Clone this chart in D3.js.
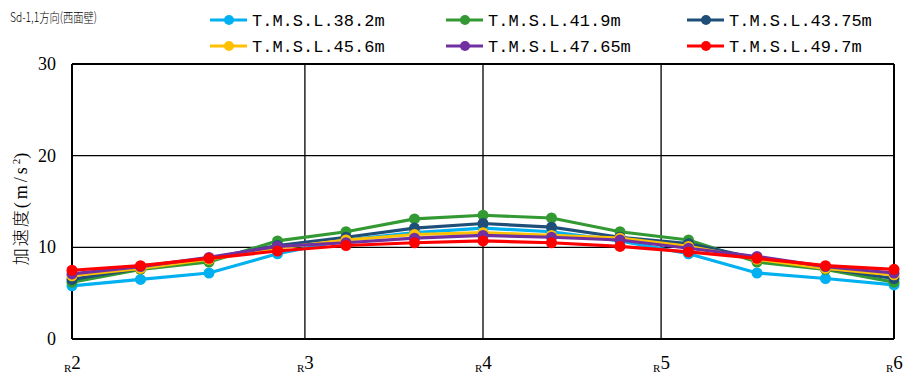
<!DOCTYPE html>
<html lang="ja">

<head>
    <meta charset="UTF-8">
    <script src="https://cdnjs.cloudflare.com/ajax/libs/d3/7.8.5/d3.min.js" type="text/JavaScript"></script>
    <title>Sd-1,1方向(西面壁)</title>
    <style>
        body { margin: 0; background: #fff; }
        svg { display: block; }
    </style>
</head>

<body>
    <svg width="911" height="376"></svg>
    <script>
        // positions of measuring points along the wall (equal spacing)
        var positions = [0, 1, 2, 3, 4, 5, 6, 7, 8, 9, 10, 11, 12];
        // column lines R2..R6
        var tickPositions = [0, 3.4, 6, 8.6, 12];
        var tickLabels = ["2", "3", "4", "5", "6"];
        var yTicks = [0, 10, 20, 30];

        var seriesNames = ["T.M.S.L.38.2m", "T.M.S.L.41.9m", "T.M.S.L.43.75m",
            "T.M.S.L.45.6m", "T.M.S.L.47.65m", "T.M.S.L.49.7m"];
        var seriesColors = ["#00B0F0", "#339933", "#1F4E79", "#FFC000", "#7030A0", "#FF0000"];

        var s382 = [5.8, 6.5, 7.2, 9.3, 10.8, 11.6, 12.1, 11.7, 10.7, 9.3, 7.2, 6.6, 5.9];
        var s419 = [6.2, 7.6, 8.4, 10.7, 11.7, 13.1, 13.5, 13.2, 11.7, 10.8, 8.4, 7.6, 6.2];
        var s4375 = [6.5, 7.7, 8.8, 10.2, 11.1, 12.1, 12.6, 12.2, 11.1, 10.4, 8.8, 7.7, 6.6];
        var s456 = [6.9, 7.7, 8.7, 9.9, 10.8, 11.4, 11.6, 11.3, 11.0, 10.1, 8.7, 7.7, 7.0];
        var s4765 = [7.1, 7.9, 8.9, 10.1, 10.5, 11.0, 11.3, 11.1, 10.8, 9.9, 9.0, 7.9, 7.2];
        var s497 = [7.5, 8.0, 8.8, 9.6, 10.2, 10.5, 10.7, 10.5, 10.1, 9.5, 8.8, 8.0, 7.6];

        var seriesValues = [s382, s419, s4375, s456, s4765, s497];

        var svg = d3.select("svg");
        var plotL = 72, plotR = 894, plotT = 64, plotB = 339;

        var xScale = d3.scaleLinear().domain([0, 12]).range([plotL, plotR]);
        var yScale = d3.scaleLinear().domain([0, 30]).range([plotB, plotT]);

        // horizontal grid
        svg.append("g").selectAll("line")
            .data(yTicks)
            .enter()
            .append("line")
            .attr("x1", plotL).attr("x2", plotR)
            .attr("y1", d => yScale(d)).attr("y2", d => yScale(d))
            .attr("stroke", "#000").attr("stroke-width", d => (d == 0 || d == 30) ? 2 : 1.3);

        // vertical grid
        svg.append("g").selectAll("line")
            .data(tickPositions)
            .enter()
            .append("line")
            .attr("x1", d => xScale(d)).attr("x2", d => xScale(d))
            .attr("y1", plotT).attr("y2", plotB)
            .attr("stroke", "#000").attr("stroke-width", d => (d == 0 || d == 12) ? 2 : 1.3);

        // y tick labels
        svg.append("g").selectAll("text")
            .data(yTicks)
            .enter()
            .append("text")
            .attr("x", 56)
            .attr("y", d => yScale(d) + 6)
            .attr("text-anchor", "end")
            .style("font-family", "'Liberation Serif', serif")
            .style("font-size", "18px")
            .text(d => d);

        // x tick labels: small R then column number
        var xl = svg.append("g").selectAll("text")
            .data(tickPositions)
            .enter()
            .append("text")
            .attr("x", d => xScale(d) - 8)
            .attr("y", 369)
            .style("font-family", "'Liberation Serif', serif");
        xl.append("tspan").style("font-size", "11px").attr("dy", 3).text("R");
        xl.append("tspan").style("font-size", "19px").attr("dy", -3).text((d, i) => tickLabels[i]);

        // y axis title
        var yt = svg.append("text")
            .attr("transform", "translate(27,209) rotate(-90)")
            .attr("text-anchor", "middle")
            .style("font-size", "17px")
            .style("font-weight", "300")
            .style("font-family", "'Noto Sans CJK JP', sans-serif");
        yt.append("tspan").style("letter-spacing", "2px").text("加速度");
        yt.append("tspan").style("font-family", "'Liberation Serif', serif").style("font-size", "18px")
            .style("letter-spacing", "3px").text("(m/s");
        yt.append("tspan").style("font-family", "'Liberation Serif', serif").style("font-size", "11px").attr("dy", -7).text("2");
        yt.append("tspan").style("font-family", "'Liberation Serif', serif").style("font-size", "18px").attr("dy", 7).text(")");

        // lines and markers
        var line = d3.line()
            .x((d, i) => xScale(positions[i]))
            .y(d => yScale(d));

        seriesValues.forEach(function (vals, k) {
            var g = svg.append("g");
            g.append("path")
                .attr("d", line(vals))
                .attr("fill", "none")
                .attr("stroke", seriesColors[k])
                .attr("stroke-width", 3.2);
            g.selectAll("circle")
                .data(vals)
                .enter()
                .append("circle")
                .attr("cx", (d, i) => xScale(positions[i]))
                .attr("cy", d => yScale(d))
                .attr("r", 5.5)
                .attr("fill", seriesColors[k]);
        });

        // title
        svg.append("text")
            .attr("x", 10).attr("y", 22)
            .attr("textLength", 87).attr("lengthAdjust", "spacingAndGlyphs")
            .style("font-family", "'Noto Sans CJK JP', sans-serif")
            .style("font-weight", "300")
            .style("font-size", "13px")
            .text("Sd-1,1方向(西面壁)");

        // legend
        var legendX = [210, 446, 687];
        var legendY = [20, 46];
        var leg = svg.append("g").selectAll("g")
            .data(seriesNames)
            .enter()
            .append("g")
            .attr("transform", (d, i) => "translate(" + legendX[i % 3] + "," + legendY[Math.floor(i / 3)] + ")");
        leg.append("line")
            .attr("x1", 0).attr("x2", 37)
            .attr("stroke", (d, i) => seriesColors[i])
            .attr("stroke-width", 3.2);
        leg.append("circle")
            .attr("cx", 19).attr("r", 5)
            .attr("fill", (d, i) => seriesColors[i]);
        leg.append("text")
            .attr("x", 42).attr("y", 6)
            .style("font-family", "'Liberation Mono', monospace")
            .style("font-size", "17px")
            .text(d => d);
    </script>
</body>

</html>
